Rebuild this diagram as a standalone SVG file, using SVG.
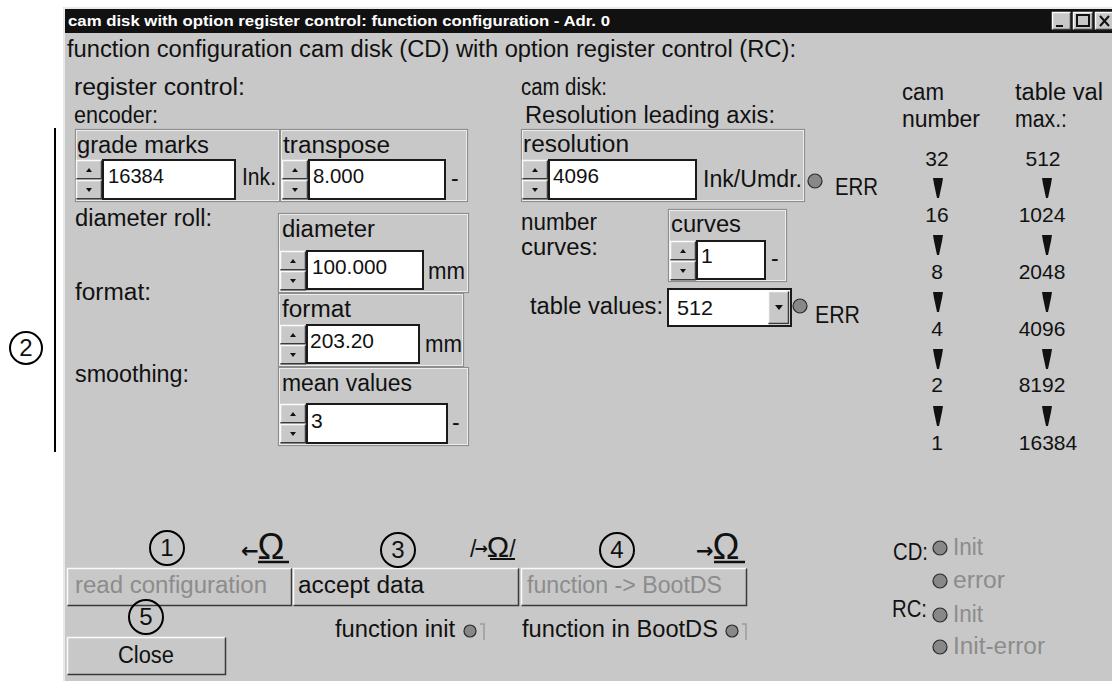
<svg xmlns="http://www.w3.org/2000/svg" xmlns:xlink="http://www.w3.org/1999/xlink" width="1112" height="681" viewBox="0 0 1112 681">
<style>
text{font-family:"Liberation Sans",Arial,"DejaVu Sans",sans-serif;font-size:23px;fill:#111}
.title{font-size:15px;font-weight:bold;fill:#fff}
.v{font-size:21px}
.dis{fill:#8c8c8c}
.num{font-size:24px;text-anchor:middle}
.grp{fill:none;stroke:#8e8e8e;stroke-width:1.2}
.grpw{fill:none;stroke:#ececec;stroke-width:1}
.fld{fill:#fff;stroke:#1a1a1a;stroke-width:2}
.led{fill:#888;stroke:#2a2a2a;stroke-width:1.2}
.hl{fill:none;stroke:#fafafa;stroke-width:1.5}
.sh{fill:none;stroke:#3a3a3a;stroke-width:1.5}
.btn{fill:#c8c8c8}
.cir{fill:none;stroke:#000;stroke-width:2}
.arr{fill:#111}
.sym{font-family:"DejaVu Sans",sans-serif;font-weight:bold}
</style>
<defs>
<g id="spin">
<rect x="0" y="0" width="26" height="19" class="btn"/>
<path d="M0.5 18.5V0.5H25.5" class="hl"/>
<path d="M0.5 18.8H25.5V0.5" class="sh"/>
<polygon points="10,12 16,12 13,8" fill="#111"/>
<rect x="0" y="20" width="26" height="19" class="btn"/>
<path d="M0.5 38.5V20.5H25.5" class="hl"/>
<path d="M0.5 38.8H25.5V20.5" class="sh"/>
<polygon points="10,28 16,28 13,32" fill="#111"/>
</g>
<polygon id="dn" points="-5,0 5,0 4,6 1,20 -1,20 -4,6"/>
</defs>

<rect x="0" y="0" width="1112" height="681" fill="#fff"/>
<g id="window">
<rect x="63" y="7" width="1049" height="674" fill="#c8c8c8"/>
<path d="M64 681V8H1112" fill="none" stroke="#f4f4f4" stroke-width="1.5"/>
<rect x="65" y="9" width="1047" height="24" fill="#111"/>
<text x="68" y="26" class="title" textLength="542" lengthAdjust="spacingAndGlyphs">cam disk with option register control: function configuration - Adr. 0</text>
<g id="titlebuttons">
<rect x="1052" y="12" width="19" height="18" class="btn"/>
<path d="M1052.5 29.5V12.5H1070.5" class="hl"/><path d="M1052.5 29.5H1070.5V12.5" class="sh"/>
<line x1="1056" y1="26" x2="1063" y2="26" stroke="#111" stroke-width="2"/>
<rect x="1073" y="12" width="20" height="18" class="btn"/>
<path d="M1073.5 29.5V12.5H1092.5" class="hl"/><path d="M1073.5 29.5H1092.5V12.5" class="sh"/>
<rect x="1077" y="15" width="12" height="11" fill="none" stroke="#111" stroke-width="2"/>
<rect x="1095" y="12" width="17" height="18" class="btn"/>
<path d="M1095.5 29.5V12.5H1112" class="hl"/><path d="M1095.5 29.5H1112" class="sh"/>
<path d="M1100 16L1109 26M1109 16L1100 26" stroke="#111" stroke-width="2"/>
</g>
</g>

<text x="67" y="57" textLength="729" lengthAdjust="spacingAndGlyphs">function configuration cam disk (CD) with option register control (RC):</text>
<g id="labels-left">
<text x="74" y="95" textLength="171" lengthAdjust="spacingAndGlyphs">register control:</text>
<text x="74" y="123" textLength="84" lengthAdjust="spacingAndGlyphs">encoder:</text>
<text x="75" y="226" textLength="137" lengthAdjust="spacingAndGlyphs">diameter roll:</text>
<text x="75" y="300" textLength="76" lengthAdjust="spacingAndGlyphs">format:</text>
<text x="75" y="382" textLength="114" lengthAdjust="spacingAndGlyphs">smoothing:</text>
</g>

<g id="grade-marks">
<rect x="75.5" y="129.5" width="204" height="72" class="grp"/>
<rect x="76.5" y="130.5" width="202" height="70" class="grpw"/>
<text x="77" y="153" textLength="132" lengthAdjust="spacingAndGlyphs">grade marks</text>
<use xlink:href="#spin" x="76" y="160"/>
<rect x="103" y="160" width="132" height="39" class="fld"/>
<text x="108" y="183" class="v" textLength="56" lengthAdjust="spacingAndGlyphs">16384</text>
<text x="242" y="185" textLength="34" lengthAdjust="spacingAndGlyphs">Ink.</text>
</g>
<g id="transpose">
<rect x="280.5" y="129.5" width="187" height="72" class="grp"/>
<rect x="281.5" y="130.5" width="185" height="70" class="grpw"/>
<text x="283" y="153" textLength="107" lengthAdjust="spacingAndGlyphs">transpose</text>
<use xlink:href="#spin" x="282" y="160"/>
<rect x="309" y="160" width="136" height="39" class="fld"/>
<text x="313" y="183" class="v" textLength="51" lengthAdjust="spacingAndGlyphs">8.000</text>
<text x="451" y="186">-</text>
</g>
<g id="diameter">
<rect x="278.5" y="213.5" width="190" height="79" class="grp"/>
<rect x="279.5" y="214.5" width="188" height="77" class="grpw"/>
<text x="282" y="237" textLength="93" lengthAdjust="spacingAndGlyphs">diameter</text>
<use xlink:href="#spin" x="280" y="251"/>
<rect x="307" y="251" width="116" height="38" class="fld"/>
<text x="312" y="274" class="v" textLength="75" lengthAdjust="spacingAndGlyphs">100.000</text>
<text x="428" y="279" textLength="37" lengthAdjust="spacingAndGlyphs">mm</text>
</g>
<g id="format">
<rect x="278.5" y="293.5" width="185" height="73" class="grp"/>
<rect x="279.5" y="294.5" width="183" height="71" class="grpw"/>
<text x="282" y="317" textLength="69" lengthAdjust="spacingAndGlyphs">format</text>
<use xlink:href="#spin" x="280" y="325"/>
<rect x="307" y="325" width="112" height="38" class="fld"/>
<text x="310" y="348" class="v" textLength="64" lengthAdjust="spacingAndGlyphs">203.20</text>
<text x="425" y="352" textLength="37" lengthAdjust="spacingAndGlyphs">mm</text>
</g>
<g id="mean-values">
<rect x="278.5" y="367.5" width="190" height="78" class="grp"/>
<rect x="279.5" y="368.5" width="188" height="76" class="grpw"/>
<text x="282" y="391" textLength="130" lengthAdjust="spacingAndGlyphs">mean values</text>
<use xlink:href="#spin" x="280" y="404"/>
<rect x="307" y="404" width="140" height="39" class="fld"/>
<text x="311" y="428" class="v">3</text>
<text x="452" y="430">-</text>
</g>

<g id="labels-right">
<text x="521" y="95" textLength="86" lengthAdjust="spacingAndGlyphs">cam disk:</text>
<text x="525" y="123" textLength="250" lengthAdjust="spacingAndGlyphs">Resolution leading axis:</text>
<text x="521" y="230" textLength="76" lengthAdjust="spacingAndGlyphs">number</text>
<text x="521" y="255" textLength="77" lengthAdjust="spacingAndGlyphs">curves:</text>
</g>
<g id="resolution">
<rect x="521.5" y="129.5" width="283" height="72" class="grp"/>
<rect x="522.5" y="130.5" width="281" height="70" class="grpw"/>
<text x="523" y="152" textLength="106" lengthAdjust="spacingAndGlyphs">resolution</text>
<use xlink:href="#spin" x="522" y="160"/>
<rect x="549" y="160" width="147" height="39" class="fld"/>
<text x="553" y="183" class="v" textLength="46" lengthAdjust="spacingAndGlyphs">4096</text>
<text x="703" y="187" textLength="99" lengthAdjust="spacingAndGlyphs">Ink/Umdr.</text>
<circle cx="815" cy="181" r="7" class="led"/>
<text x="835" y="195" textLength="43" lengthAdjust="spacingAndGlyphs">ERR</text>
</g>
<g id="curves">
<rect x="668.5" y="209.5" width="118" height="72" class="grp"/>
<rect x="669.5" y="210.5" width="116" height="70" class="grpw"/>
<text x="671" y="232" textLength="70" lengthAdjust="spacingAndGlyphs">curves</text>
<use xlink:href="#spin" x="670" y="241"/>
<rect x="697" y="241" width="68" height="38" class="fld"/>
<text x="701" y="263" class="v">1</text>
<text x="771" y="266">-</text>
</g>
<g id="table-values">
<text x="530" y="314" textLength="133" lengthAdjust="spacingAndGlyphs">table values:</text>
<rect x="668" y="289" width="123" height="37" class="fld"/>
<text x="677" y="315" class="v" textLength="36" lengthAdjust="spacingAndGlyphs">512</text>
<rect x="768" y="291" width="21" height="33" class="btn"/>
<path d="M768.5 323.5V291.5H788.5" class="hl"/><path d="M768.5 323.5H788.5V291.5" class="sh"/>
<polygon points="775,305 783,305 779,310" fill="#111"/>
<circle cx="800" cy="306" r="7" class="led"/>
<text x="815" y="323" textLength="45" lengthAdjust="spacingAndGlyphs">ERR</text>
</g>

<g id="cam-table">
<text x="902" y="100" textLength="42" lengthAdjust="spacingAndGlyphs">cam</text>
<text x="902" y="127" textLength="78" lengthAdjust="spacingAndGlyphs">number</text>
<text x="1015" y="100" textLength="88" lengthAdjust="spacingAndGlyphs">table val</text>
<text x="1015" y="127" textLength="52" lengthAdjust="spacingAndGlyphs">max.:</text>
<g text-anchor="middle">
<text x="937" y="166" class="v">32</text><text x="1043" y="166" class="v">512</text>
<text x="937" y="222" class="v">16</text><text x="1042" y="222" class="v">1024</text>
<text x="937" y="279" class="v">8</text><text x="1042" y="279" class="v">2048</text>
<text x="937" y="336" class="v">4</text><text x="1042" y="336" class="v">4096</text>
<text x="937" y="392" class="v">2</text><text x="1042" y="392" class="v">8192</text>
<text x="937" y="450" class="v">1</text><text x="1048" y="450" class="v">16384</text>
</g>
<g class="arr">
<use xlink:href="#dn" x="938" y="178"/><use xlink:href="#dn" x="1047" y="178"/>
<use xlink:href="#dn" x="938" y="235"/><use xlink:href="#dn" x="1047" y="235"/>
<use xlink:href="#dn" x="938" y="292"/><use xlink:href="#dn" x="1047" y="292"/>
<use xlink:href="#dn" x="938" y="349"/><use xlink:href="#dn" x="1047" y="349"/>
<use xlink:href="#dn" x="938" y="406"/><use xlink:href="#dn" x="1047" y="406"/>
</g>
</g>

<g id="btn-read">
<rect x="67" y="568" width="225" height="38" class="btn"/>
<path d="M67.5 605.5V568.5H291.5" class="hl"/><path d="M67.5 605.5H291.5V568.5" class="sh"/>
<text x="75" y="593" class="dis" textLength="192" lengthAdjust="spacingAndGlyphs">read configuration</text>
</g>
<g id="btn-accept">
<rect x="293" y="568" width="226" height="38" class="btn"/>
<path d="M293.5 605.5V568.5H518.5" class="hl"/><path d="M293.5 605.5H518.5V568.5" class="sh"/>
<text x="298" y="593" textLength="126" lengthAdjust="spacingAndGlyphs">accept data</text>
</g>
<g id="btn-boot">
<rect x="521" y="568" width="226" height="38" class="btn"/>
<path d="M521.5 605.5V568.5H746.5" class="hl"/><path d="M521.5 605.5H746.5V568.5" class="sh"/>
<text x="527" y="593" class="dis" textLength="195" lengthAdjust="spacingAndGlyphs">function -&gt; BootDS</text>
</g>
<g id="btn-close">
<rect x="67" y="637" width="159" height="38" class="btn"/>
<path d="M67.5 674.5V637.5H225.5" class="hl"/><path d="M67.5 674.5H225.5V637.5" class="sh"/>
<text x="146" y="663" text-anchor="middle" textLength="56" lengthAdjust="spacingAndGlyphs">Close</text>
</g>

<g id="symbols">
<text x="241" y="559"><tspan class="sym" font-size="21" dy="-1">←</tspan><tspan font-size="36" dx="-1" dy="1">Ω</tspan></text>
<line x1="258" y1="562" x2="289" y2="562" stroke="#111" stroke-width="2.5"/>
<text x="470" y="557" font-size="26">/<tspan class="sym" font-size="16" dy="-3" dx="-2">→</tspan><tspan font-size="30" dy="3" dx="-1">Ω</tspan>/</text>
<line x1="490" y1="559" x2="515" y2="559" stroke="#111" stroke-width="2"/>
<text x="696" y="559"><tspan class="sym" font-size="21" dy="-1">→</tspan><tspan font-size="36" dx="-1" dy="1">Ω</tspan></text>
<line x1="714" y1="562" x2="745" y2="562" stroke="#111" stroke-width="2.5"/>
</g>

<g id="status-bottom">
<text x="335" y="637" textLength="120" lengthAdjust="spacingAndGlyphs">function init</text>
<circle cx="470" cy="631" r="6" class="led"/>
<path d="M480 624H484V640" fill="none" stroke="#9a9a9a" stroke-width="1.5"/>
<text x="522" y="637" textLength="196" lengthAdjust="spacingAndGlyphs">function in BootDS</text>
<circle cx="732" cy="631" r="6" class="led"/>
<path d="M742 624H746V640" fill="none" stroke="#9a9a9a" stroke-width="1.5"/>
</g>

<g id="status-right">
<text x="893" y="560" textLength="35" lengthAdjust="spacingAndGlyphs">CD:</text>
<circle cx="940" cy="548" r="7" class="led"/>
<text x="953" y="555" class="dis" textLength="30" lengthAdjust="spacingAndGlyphs">Init</text>
<circle cx="940" cy="581" r="7" class="led"/>
<text x="953" y="588" class="dis" textLength="52" lengthAdjust="spacingAndGlyphs">error</text>
<text x="892" y="617" textLength="35" lengthAdjust="spacingAndGlyphs">RC:</text>
<circle cx="940" cy="615" r="7" class="led"/>
<text x="953" y="622" class="dis" textLength="30" lengthAdjust="spacingAndGlyphs">Init</text>
<circle cx="940" cy="647" r="7" class="led"/>
<text x="953" y="654" class="dis" textLength="92" lengthAdjust="spacingAndGlyphs">Init-error</text>
</g>

<g id="callouts">
<line x1="55" y1="128" x2="55" y2="452" stroke="#000" stroke-width="2"/>
<circle cx="26" cy="348" r="16" class="cir"/><text x="26" y="356" class="num">2</text>
<circle cx="167" cy="548" r="17" class="cir"/><text x="167" y="556" class="num">1</text>
<circle cx="398" cy="550" r="17" class="cir"/><text x="398" y="558" class="num">3</text>
<circle cx="617" cy="550" r="17" class="cir"/><text x="617" y="558" class="num">4</text>
<circle cx="146" cy="617" r="17" class="cir"/><text x="146" y="625" class="num">5</text>
</g>
</svg>
